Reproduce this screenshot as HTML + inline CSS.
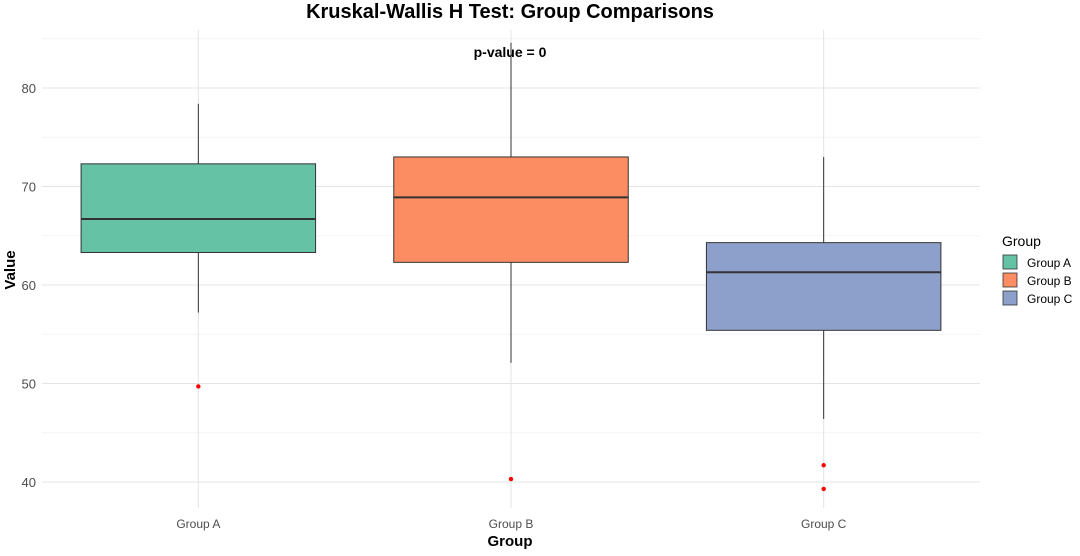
<!DOCTYPE html>
<html><head><meta charset="utf-8"><style>
body{margin:0;background:#fff;font-family:"Liberation Sans",sans-serif}
</style></head><body>
<svg id="chart" width="1080" height="551" xmlns="http://www.w3.org/2000/svg" font-family="Liberation Sans, sans-serif">
<text x="510" y="18" text-anchor="middle" font-size="20" font-weight="bold">Kruskal-Wallis H Test: Group Comparisons</text>
<g id="grid"></g>
<g id="boxes"></g>
<text x="510" y="57" text-anchor="middle" font-size="14" font-weight="bold">p-value = 0</text>
<text x="510" y="546" text-anchor="middle" font-size="15" font-weight="bold">Group</text>
<text transform="translate(15,270) rotate(-90)" text-anchor="middle" font-size="15" font-weight="bold">Value</text>
<g id="legend">
<text x="1002" y="246" font-size="14">Group</text>
</g>
</svg>
<script>
const categories=["Group A","Group B","Group C"];
const q1=[63.3,62.3,55.4];
const medians=[66.7,68.9,61.3];
const q3=[72.3,73.0,64.3];
const whiskerLow=[57.2,52.1,46.4];
const whiskerHigh=[78.4,84.6,73.0];
const outliers=[[49.7],[40.3],[41.7,39.3]];
const colors=["#66c2a5","#fc8d62","#8da0cb"];
const yTicks=[40,50,60,70,80];
const minorTicks=[45,55,65,75,85];
const NS="http://www.w3.org/2000/svg";
const X0=42,X1=980;
const y=v=>482-(v-40)*9.85;
const step=(X1-X0)/categories.length;
const x=i=>X0+step*(i+0.5);
const bw=step*0.75;
function mk(tag,attrs,parent){const e=document.createElementNS(NS,tag);for(const k in attrs)e.setAttribute(k,attrs[k]);parent.appendChild(e);return e;}
const grid=document.getElementById('grid'),boxes=document.getElementById('boxes'),svg=document.getElementById('chart');
minorTicks.forEach(t=>{const l=mk('line',{x1:X0,x2:X1,y1:y(t),y2:y(t),stroke:'#f0f0f0','stroke-width':0.8},grid);

});
yTicks.forEach(t=>{const l=mk('line',{x1:X0,x2:X1,y1:y(t),y2:y(t),stroke:'#e4e4e4','stroke-width':1},grid);


const tx=mk('text',{x:36,y:y(t)+5,'text-anchor':'end','font-size':13,fill:'#4d4d4d'},svg);tx.textContent=t;

});
categories.forEach((c,i)=>{const l=mk('line',{x1:x(i),x2:x(i),y1:30,y2:508,stroke:'#e4e4e4','stroke-width':1},grid);


const tx=mk('text',{x:x(i),y:528,'text-anchor':'middle','font-size':12,fill:'#4d4d4d'},svg);tx.textContent=c;


const g=mk('g',{},boxes);


mk('line',{x1:x(i),x2:x(i),y1:y(whiskerHigh[i]),y2:y(q3[i]),stroke:'#333','stroke-width':1},g);
mk('line',{x1:x(i),x2:x(i),y1:y(q1[i]),y2:y(whiskerLow[i]),stroke:'#333','stroke-width':1},g);
mk('rect',{x:x(i)-bw/2,y:y(q3[i]),width:bw,height:y(q1[i])-y(q3[i]),fill:colors[i],stroke:'#333','stroke-width':1},g);
mk('line',{x1:x(i)-bw/2,x2:x(i)+bw/2,y1:y(medians[i]),y2:y(medians[i]),stroke:'#333','stroke-width':2},g);
outliers[i].forEach(o=>{const p=mk('circle',{cx:x(i),cy:y(o),r:2.2,fill:'red'},g);

});
const lg=document.getElementById('legend');
const ly=255+i*18;
const r=mk('rect',{x:1003,y:ly,width:14,height:14,fill:colors[i],stroke:'#333','stroke-width':0.8},lg);


const lt=mk('text',{x:1027,y:ly+12,'font-size':12},lg);lt.textContent=c;


});
</script>
</body></html>
